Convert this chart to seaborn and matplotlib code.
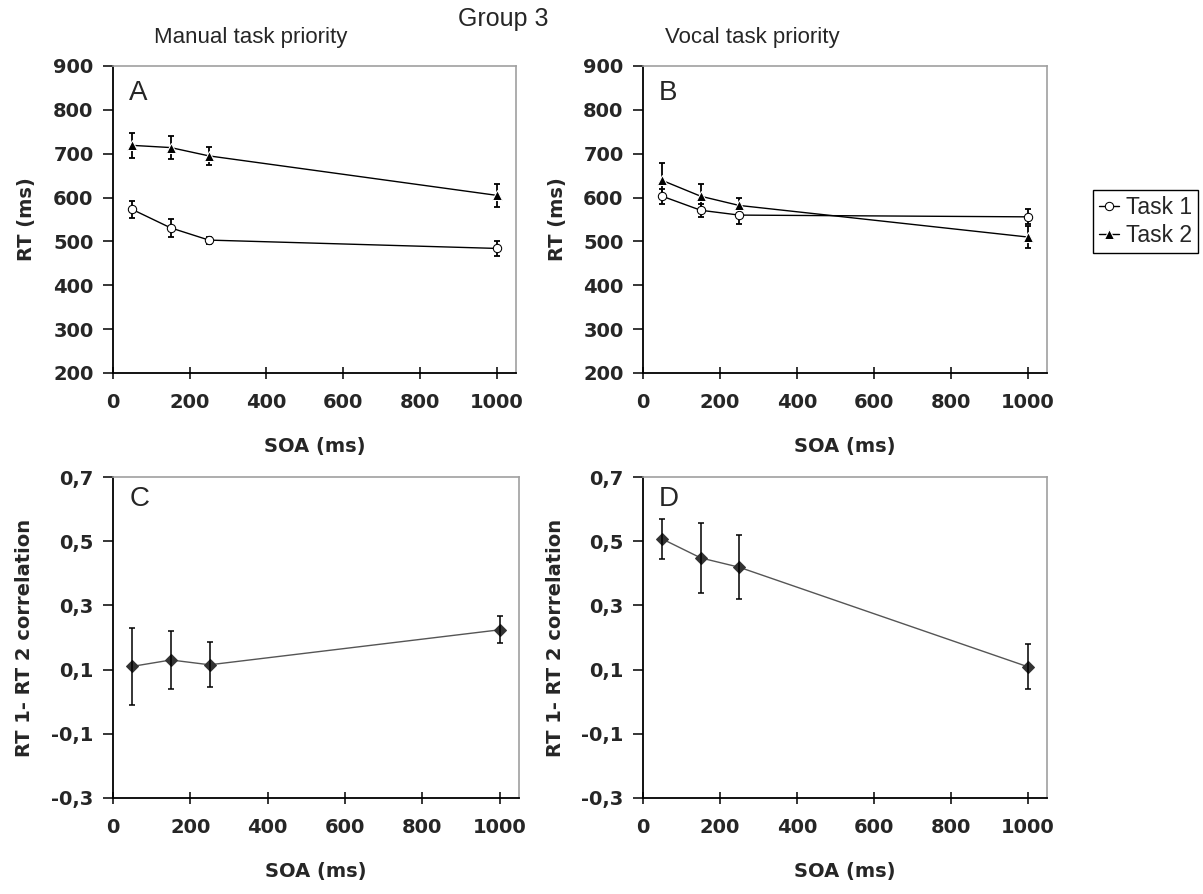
import numpy as np
import pandas as pd
import seaborn as sns
import matplotlib
matplotlib.use("Agg")
import matplotlib.pyplot as plt
from matplotlib.ticker import FuncFormatter

soa = [50, 150, 250, 1000]

# panel A - manual task priority
a_task1 = [573, 531, 503, 484]
a_task1_err = [20, 20, 8, 18]
a_task2 = [719, 714, 695, 605]
a_task2_err = [28, 27, 21, 27]

# panel B - vocal task priority
b_task1 = [603, 571, 560, 556]
b_task1_err = [17, 15, 20, 17]
b_task2 = [639, 603, 582, 510]
b_task2_err = [40, 28, 17, 26]

# panels C / D - RT1-RT2 correlation
c_corr = [0.11, 0.13, 0.115, 0.224]
c_corr_err = [0.12, 0.09, 0.07, 0.042]
d_corr = [0.507, 0.448, 0.419, 0.109]
d_corr_err = [0.062, 0.11, 0.10, 0.07]

sns.set_style("ticks")
plt.rcParams['font.family'] = ['Liberation Sans', 'DejaVu Sans']
bold = dict(family="DejaVu Sans", weight="bold", size=14)

fig = plt.figure(figsize=(12.03, 8.94), dpi=100)
axA = fig.add_axes([0.0939, 0.5828, 0.335, 0.3434])
axB = fig.add_axes([0.5345, 0.5828, 0.3358, 0.3434])
axC = fig.add_axes([0.0939, 0.1074, 0.3375, 0.359])
axD = fig.add_axes([0.5345, 0.1074, 0.3358, 0.359])


def rt_panel(ax, t1, e1, t2, e2, letter):
    df = pd.DataFrame({"SOA": soa * 2, "RT": t1 + t2,
                       "task": ["Task 1"] * 4 + ["Task 2"] * 4})
    sns.lineplot(data=df, x="SOA", y="RT", hue="task", style="task",
                 markers={"Task 1": "o", "Task 2": "^"}, dashes=False,
                 palette={"Task 1": "black", "Task 2": "black"},
                 linewidth=1, markersize=6.5, ax=ax, legend=False)
    lines = ax.get_lines()
    lines[0].set_markerfacecolor("white")
    lines[0].set_markeredgecolor("black")
    lines[0].set_markersize(6)
    lines[0].set_zorder(4)
    lines[1].set_zorder(4)
    for vals, errs in [(t1, e1), (t2, e2)]:
        ax.errorbar(soa, vals, yerr=errs, fmt="none", ecolor="black",
                    elinewidth=1.3, capsize=2, capthick=1.3, zorder=3)
    ax.set_ylim(200, 900)
    ax.set_yticks(range(200, 901, 100))
    ax.set_ylabel("RT (ms)", fontdict=bold, labelpad=12)
    ax.text(0.04, 0.912, letter, transform=ax.transAxes, fontsize=20,
            va="center", ha="left")


def corr_panel(ax, vals, errs, letter):
    df = pd.DataFrame({"SOA": soa, "r": vals})
    sns.lineplot(data=df, x="SOA", y="r", color="#555555", linewidth=1,
                 marker="D", markersize=6, markerfacecolor="#333333",
                 markeredgecolor="#333333", ax=ax)
    ax.errorbar(soa, vals, yerr=errs, fmt="none", ecolor="black",
                elinewidth=1.1, capsize=2, capthick=1.1, zorder=3)
    ax.set_ylim(-0.3, 0.7)
    ax.set_yticks(np.arange(-0.3, 0.71, 0.2))
    ax.yaxis.set_major_formatter(
        FuncFormatter(lambda v, p: ("%.1f" % v).replace(".", ",")))
    ax.set_ylabel("RT 1- RT 2 correlation", fontdict=bold, labelpad=12)
    ax.text(0.04, 0.931, letter, transform=ax.transAxes, fontsize=20,
            va="center", ha="left")


rt_panel(axA, a_task1, a_task1_err, a_task2, a_task2_err, "A")
rt_panel(axB, b_task1, b_task1_err, b_task2, b_task2_err, "B")
corr_panel(axC, c_corr, c_corr_err, "C")
corr_panel(axD, d_corr, d_corr_err, "D")

for ax in [axA, axB, axC, axD]:
    ax.set_xlim(0, 1050)
    ax.set_xticks(range(0, 1001, 200))
    ax.set_xlabel("SOA (ms)", fontdict=bold, labelpad=18)
    for s in ["left", "bottom"]:
        ax.spines[s].set_color("black")
        ax.spines[s].set_linewidth(1.3)
    for s in ["top", "right"]:
        ax.spines[s].set_visible(True)
        ax.spines[s].set_color("#a0a0a0")
        ax.spines[s].set_linewidth(1.2)
    ax.tick_params(axis="y", direction="out", length=7, width=1.3, pad=7)
    ax.tick_params(axis="x", direction="inout", length=9, width=1.3, pad=10)
    for lab in ax.get_xticklabels() + ax.get_yticklabels():
        lab.set_fontproperties(bold)

fig.text(0.418, 0.979, "Group 3", fontsize=18, ha="center", va="center")
fig.text(0.128, 0.958, "Manual task priority", fontsize=16, ha="left",
         va="center")
fig.text(0.553, 0.958, "Vocal task priority", fontsize=16, ha="left",
         va="center")

handles = axA.get_lines()[:2]
fig.legend(handles, ["Task 1", "Task 2"], loc="lower right",
           bbox_to_anchor=(0.9958, 0.717), frameon=True, fancybox=False,
           edgecolor="black", fontsize=16.5, handlelength=0.9,
           handletextpad=0.3, borderpad=0.25, labelspacing=0.25,
           borderaxespad=0, framealpha=1)

fig.savefig("out.png", dpi=100, facecolor="white")
